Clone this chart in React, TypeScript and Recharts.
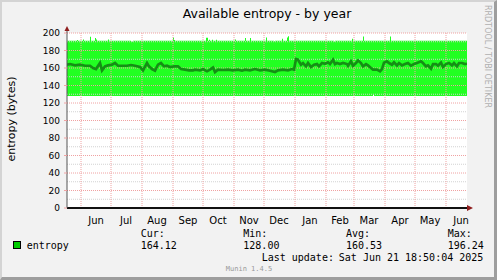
import React from 'react';
import { ComposedChart, Area, Line, XAxis, YAxis, ReferenceLine, ReferenceDot } from 'recharts';

// ---- data ----
const monthNames = ['Jun', 'Jul', 'Aug', 'Sep', 'Oct', 'Nov', 'Dec', 'Jan', 'Feb', 'Mar', 'Apr', 'May', 'Jun'];
const monthStartDays = [14, 44, 75, 106, 136, 167, 197, 228, 259, 287, 318, 348, 379];
const monthLabelDays = [29, 59, 90, 121, 151, 182, 212, 243, 273, 302, 333, 363, 394];
const yMajorTicks = [0, 20, 40, 60, 80, 100, 120, 140, 160, 180, 200];
const yMinorTicks = [10, 30, 50, 70, 90, 110, 130, 150, 170, 190];

// min/max band (day index from start of the 400-day window)
const bandDays = [0, 10, 11, 16, 17, 23, 24, 28, 29, 30, 41, 42, 64, 66, 106, 107, 108, 139, 141, 142, 143, 145, 146, 149, 150,
  168, 169, 178, 179, 183, 184, 199, 200, 207, 208, 215, 216, 220, 221, 222, 267, 268, 285, 286, 296, 297, 306, 307, 323, 324, 400];
const bandHigh = [191.2, 192.0, 191.2, 192.7, 191.2, 195.8, 191.2, 194.3, 192.7, 191.2, 192.7, 191.2, 190.2, 191.2, 195.0, 192.0, 191.2, 194.6, 191.2, 192.3, 191.2, 192.3, 191.2, 192.3, 191.2,
  192.7, 191.2, 194.4, 191.2, 194.4, 191.2, 195.0, 191.2, 190.5, 191.2, 193.4, 191.2, 195.0, 196.24, 191.2, 190.2, 191.2, 193.5, 191.2, 196.0, 191.2, 191.2, 191.2, 196.0, 191.2, 191.2];
const bandLow = [128, 128, 128, 128, 128, 128, 128, 128, 128, 128, 128, 128, 128, 128, 128, 128, 128, 128, 128, 128, 128, 128, 128, 128, 128,
  128, 128, 128, 128, 128, 128, 128, 128, 128, 128, 128, 128, 128, 128, 128, 128, 128, 128, 128, 128, 128, 129.4, 128, 128, 128, 128];

// average line
const avgDays = [0, 3, 8, 13, 18, 23, 26, 29, 33, 35, 38, 41, 45, 48, 51, 55, 60, 64, 68, 73, 76, 80, 82, 85, 88, 91, 94, 97, 100, 103, 107, 111, 114, 118, 122, 126,
  128, 133, 136, 140, 143, 146, 148, 151, 156, 161, 166, 171, 175, 178, 183, 188, 193, 198, 203, 208, 211, 216, 221, 225, 227,
  229, 231, 234, 236, 239, 241, 244, 247, 250, 252, 255, 258, 261, 263, 266, 268, 270, 273, 276, 280, 281, 284, 286, 289, 291, 294, 296, 299,
  301, 304, 306, 310, 313, 315, 317, 320, 322, 325, 327, 330, 332, 335, 338, 341, 344, 347, 350, 354, 356, 359, 361, 364, 366, 369, 371, 374,
  376, 379, 382, 385, 387, 390, 392, 395, 398, 400];
const avgValues = [163.8, 164.5, 163.0, 163.8, 162.6, 162.6, 160.0, 158.8, 165.7, 157.3, 161.9, 163.0, 163.8, 165.7, 162.6, 162.6, 162.6, 163.4, 162.6, 161.1, 157.3, 165.7, 161.9, 158.8, 156.9, 163.8, 165.7, 161.9, 162.6, 161.1, 161.9, 161.9, 158.8, 158.1, 157.3, 157.3,
  158.1, 157.3, 158.8, 156.2, 158.1, 160.5, 155.4, 158.1, 157.7, 158.1, 157.3, 158.1, 156.9, 158.1, 157.3, 158.8, 157.3, 158.1, 156.9, 155.4, 157.3, 158.1, 157.3, 158.8, 158.1,
  170.2, 169.5, 163.8, 165.7, 161.9, 165.7, 161.1, 163.8, 164.5, 161.9, 165.7, 164.9, 166.5, 164.5, 169.5, 164.5, 165.7, 164.5, 165.7, 164.5, 162.6, 167.6, 162.6, 165.7, 168.7, 165.7, 161.9, 164.5,
  163.0, 160.0, 158.1, 158.1, 156.2, 158.8, 166.1, 167.6, 165.7, 163.8, 166.5, 163.0, 165.7, 163.0, 164.5, 165.7, 162.6, 164.5, 165.7, 167.6, 165.7, 161.9, 163.0, 159.2, 164.5, 164.5, 162.6, 166.1,
  161.1, 164.5, 165.7, 163.0, 165.7, 161.9, 165.7, 165.7, 164.5, 164.9];

const bandData = bandDays.map((d, i) => ({ d, lo: bandLow[i], hi: bandHigh[i] }));
const avgData = avgDays.map((d, i) => ({ d, v: avgValues[i] }));

const legendCols = [
  { label: 'Cur:', value: '164.12', x: 140.7 },
  { label: 'Min:', value: '128.00', x: 243.3 },
  { label: 'Avg:', value: '160.53', x: 346 },
  { label: 'Max:', value: '196.24', x: 447.7 },
];

const SANS = '"DejaVu Sans", sans-serif';
const MONO = '"DejaVu Sans Mono", monospace';
const MAJOR = '#f0a2a2';
const MINOR = '#d2d2d2';
const ARROW = '#8f1e1e';

const XArrow = (props: any) => {
  const { cx, cy } = props;
  return <polygon points={`${cx},${cy - 3} ${cx + 6},${cy} ${cx},${cy + 3}`} fill={ARROW} />;
};
const YArrow = (props: any) => {
  const { cx, cy } = props;
  return (
    <g>
      <line x1={cx} y1={cy} x2={cx} y2={cy - 3} stroke="#555" strokeWidth={1} />
      <polygon points={`${cx - 2.5},${cy - 2} ${cx},${cy - 7} ${cx + 2.5},${cy - 2}`} fill={ARROW} />
    </g>
  );
};

export default function App() {
  return (
    <div style={{ position: 'absolute', left: 0, top: 0, width: 497, height: 280 }}>
      <div
        style={{
          position: 'absolute', left: 0, top: 0, width: 497, height: 280, boxSizing: 'border-box',
          background: '#f2f2f2', borderTop: '2px solid #d4d4d4', borderLeft: '2px solid #d4d4d4',
          borderRight: '3px solid #9e9e9e', borderBottom: '3px solid #9e9e9e',
        }}
      />
      <div style={{ position: 'absolute', left: 0, top: 0 }}>
        <ComposedChart width={497} height={280} margin={{ top: 33, right: 30, bottom: 52, left: 7 }}>
          <XAxis
            dataKey="d"
            type="number"
            domain={[0, 400]}
            allowDataOverflow
            ticks={monthLabelDays}
            interval={0}
            tickFormatter={(v: number) => monthNames[monthLabelDays.indexOf(v)]}
            tickLine={false}
            tickMargin={3}
            height={20}
            axisLine={{ stroke: '#111', strokeWidth: 2 }}
            tick={{ fontFamily: SANS, fontSize: 10, fill: '#000' }}
          />
          <YAxis
            type="number"
            domain={[0, 200]}
            allowDataOverflow
            ticks={yMajorTicks}
            interval={0}
            width={60}
            tickSize={3}
            tickMargin={4}
            tickLine={{ stroke: MAJOR }}
            axisLine={{ stroke: '#555' }}
            tick={{ fontFamily: SANS, fontSize: 9, fill: '#000' }}
          />
          <Area
            data={[{ d: 0, lo: 0, hi: 200 }, { d: 400, lo: 0, hi: 200 }]}
            dataKey={(p: any) => [p.lo, p.hi]}
            type="linear"
            fill="#ffffff"
            fillOpacity={1}
            stroke="none"
            isAnimationActive={false}
            legendType="none"
          />
          <Area
            data={bandData}
            dataKey={(p: any) => [p.lo, p.hi]}
            type="stepAfter"
            fill="#22ff22"
            fillOpacity={1}
            stroke="none"
            isAnimationActive={false}
          />
          {yMinorTicks.map((t) => (
            <ReferenceLine key={'mi' + t} y={t} stroke={MINOR} strokeDasharray="1 1" />
          ))}
          {yMajorTicks.filter((t) => t > 0).map((t) => (
            <ReferenceLine key={'ma' + t} y={t} stroke={MAJOR} strokeDasharray="1 1" />
          ))}
          {monthStartDays.map((d) => (
            <ReferenceLine key={'m' + d} x={d} stroke={MAJOR} strokeDasharray="1 1" />
          ))}
          <Line
            data={avgData}
            dataKey="v"
            type="linear"
            stroke="#158f15"
            strokeWidth={2.7}
            dot={false}
            isAnimationActive={false}
          />
          <ReferenceDot x={400} y={0} r={0} shape={XArrow} ifOverflow="visible" />
          <ReferenceDot x={0} y={200} r={0} shape={YArrow} ifOverflow="visible" />
        </ComposedChart>
      </div>
      <svg width={497} height={280} style={{ position: 'absolute', left: 0, top: 0, pointerEvents: 'none' }}>
        <text x={267} y={13} fontFamily={SANS} fontSize={12.5} textAnchor="middle" dominantBaseline="central" fill="#000">
          Available entropy - by year
        </text>
        <text
          x={11}
          y={119}
          fontFamily={SANS}
          fontSize={11}
          textAnchor="middle"
          dominantBaseline="central"
          transform="rotate(-90 11 119)"
          fill="#000"
        >
          entropy (bytes)
        </text>
        <text
          x={487.5}
          y={5}
          fontFamily={SANS}
          fontSize={8}
          textAnchor="start"
          dominantBaseline="central"
          transform="rotate(90 487.5 5)"
          fill="#b0b0b0"
        >
          RRDTOOL / TOBI OETIKER
        </text>
        <rect x={13.5} y={241.5} width={7} height={7} fill="#00cc00" stroke="#000" strokeWidth={1} />
        <text x={26.7} y={245} fontFamily={MONO} fontSize={10} dominantBaseline="central" fill="#000">entropy</text>
        {legendCols.map((c) => (
          <g key={c.label}>
            <text x={c.x} y={233.3} fontFamily={MONO} fontSize={10} dominantBaseline="central" fill="#000">{c.label}</text>
            <text x={c.x} y={245} fontFamily={MONO} fontSize={10} dominantBaseline="central" fill="#000">{c.value}</text>
          </g>
        ))}
        <text x={261.7} y={257.3} fontFamily={MONO} fontSize={10} dominantBaseline="central" fill="#000">Last update:</text>
        <text x={483.3} y={257.3} fontFamily={MONO} fontSize={10} textAnchor="end" dominantBaseline="central" fill="#000">
          Sat Jun 21 18:50:04 2025
        </text>
        <text x={249} y={269} fontFamily={MONO} fontSize={7} textAnchor="middle" dominantBaseline="central" fill="#999">
          Munin 1.4.5
        </text>
      </svg>
    </div>
  );
}
